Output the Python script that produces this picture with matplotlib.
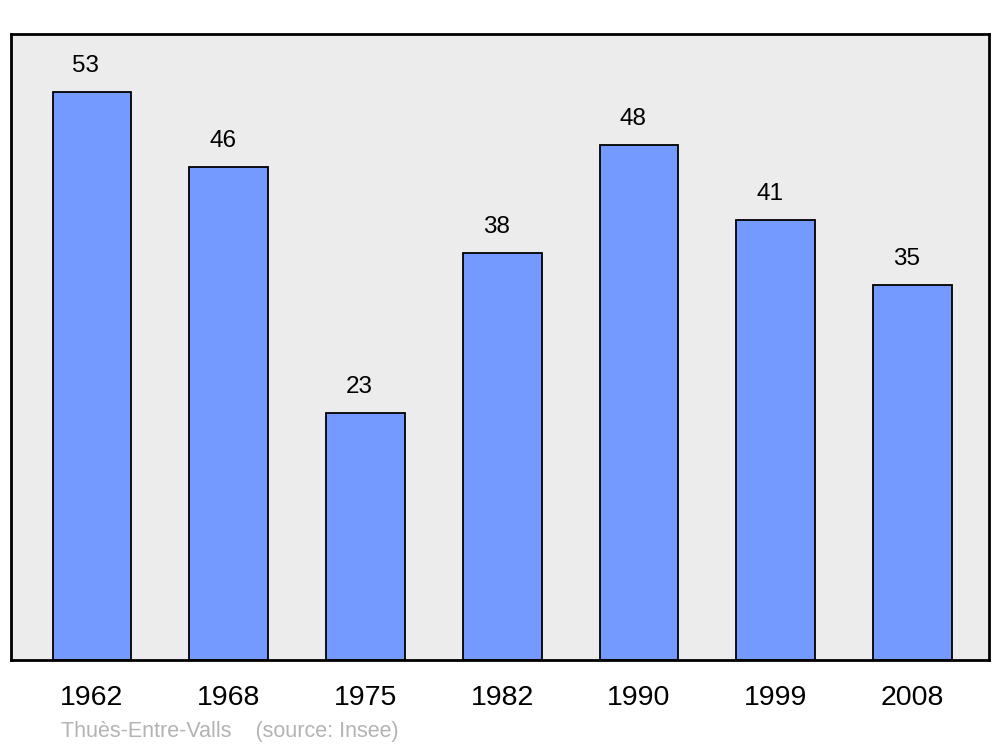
import matplotlib
matplotlib.use("Agg")
from matplotlib import pyplot as plt

# Population data for the commune
years = ["1962", "1968", "1975", "1982", "1990", "1999", "2008"]
population = [53, 46, 23, 38, 48, 41, 35]
caption = "Thuès-Entre-Valls    (source: Insee)"

plt.rcParams['font.family'] = ['Liberation Sans', 'DejaVu Sans']

fig = plt.figure(figsize=(10, 7.47), dpi=100)
ax = fig.add_axes([0.011, 0.1165, 0.978, 0.838])
ax.set_facecolor("#ececec")

positions = list(range(len(years)))
bars = ax.bar(positions, population, width=0.575, color="#7499ff",
              edgecolor="black", linewidth=1.3, zorder=2)

for bar, value in zip(bars, population):
    ax.annotate(str(value), (bar.get_x() + bar.get_width() / 2, bar.get_height()),
                xytext=(-4.3, 18.8), textcoords="offset points",
                ha="center", va="center", fontsize=17.5)

ax.set_xlim(-0.592, 6.56)
ax.set_ylim(0, 58.4)
ax.set_xticks(positions)
ax.set_xticklabels(years, fontsize=20.5)
ax.set_yticks([])
ax.tick_params(axis="x", length=0, pad=18)
for spine in ax.spines.values():
    spine.set_linewidth(2)

fig.text(0.061, 1 - 732 / 747, caption, color="#b3b3b3", fontsize=15.5, va="center")

fig.savefig("out.png", dpi=100)
